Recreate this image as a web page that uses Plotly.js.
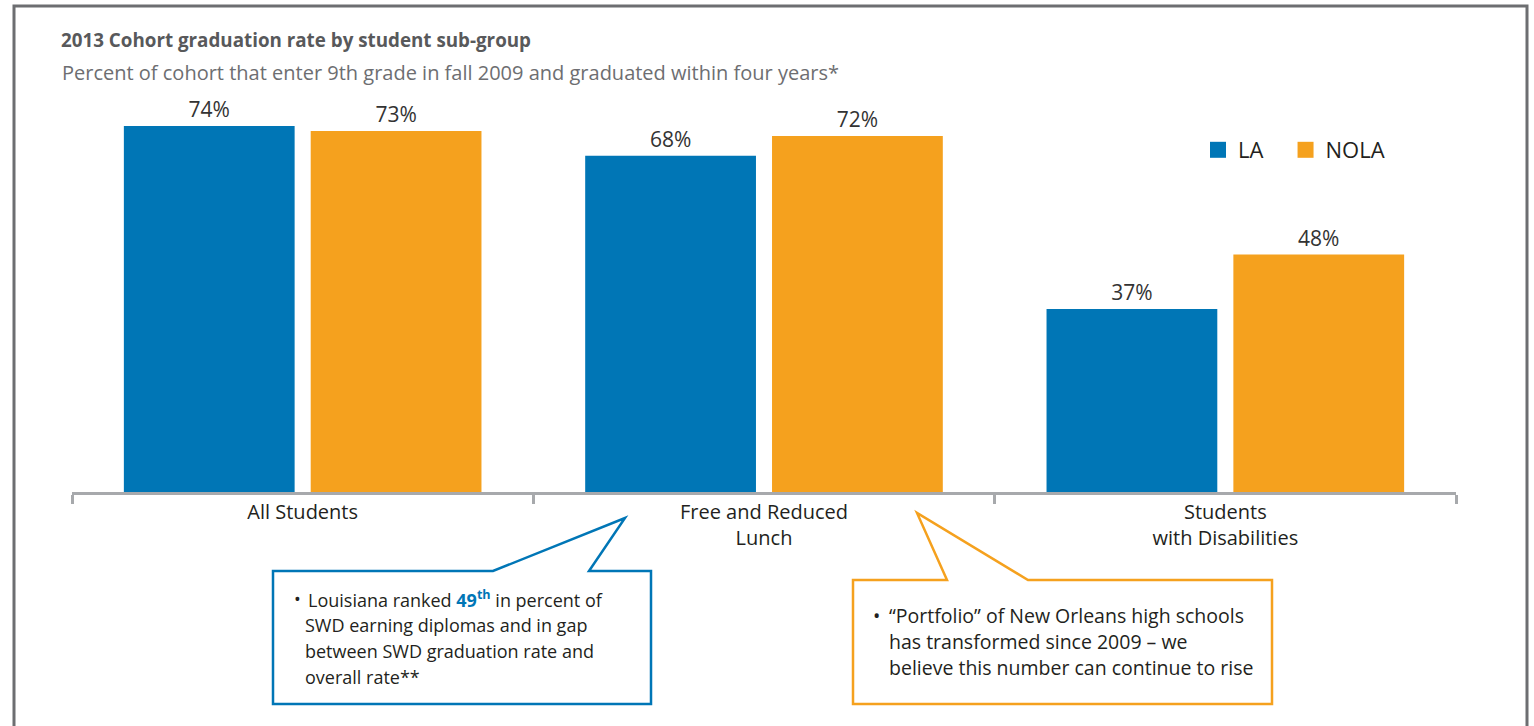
<!DOCTYPE html>
<html>
<head>
<meta charset="utf-8">
<script src="https://cdn.plot.ly/plotly-3.0.1.min.js"></script>
<style>html,body{margin:0;padding:0;background:#fff;}#chart{width:1534px;height:726px;}</style>
</head>
<body>
<div id="chart"></div>
<script>
const categories = ['All Students', 'Free and Reduced<br>Lunch', 'Students<br>with Disabilities'];
const laValues = [74, 68, 37];
const nolaValues = [73, 72, 48];
const seriesNames = ['LA', 'NOLA'];
const titleText = '2013 Cohort graduation rate by student sub-group';
const subtitleText = 'Percent of cohort that enter 9th grade in fall 2009 and graduated within four years*';
const callout1Lines = ['Louisiana ranked <span style="color:#0076b6"><b>49<sup>th</sup></b></span> in percent of', 'SWD earning diplomas and in gap', 'between SWD graduation rate and', 'overall rate**'];
const callout2Lines = ['\u201cPortfolio\u201d of New Orleans high schools', 'has transformed since 2009 \u2013 we', 'believe this number can continue to rise'];

const BLUE = '#0076b6', ORANGE = '#f5a11e';
const FONT = '"Open Sans", "Noto Sans", sans-serif';
const W = 1534, H = 726;
const M = {l: 72, r: 78, t: 100, b: 234};
const PW = W - M.l - M.r, PH = H - M.t - M.b;
const X = px => (px - M.l) / PW;
const Y = py => (H - M.b - py) / PH;
const P = pts => 'M ' + pts.map(p => X(p[0]) + ',' + Y(p[1])).join(' L ') + ' Z';

const barCommon = {
  type: 'bar', x: categories, texttemplate: '%{y}%', textposition: 'outside',
  cliponaxis: false, constraintext: 'none', showlegend: false, hoverinfo: 'skip',
  textfont: {size: 21, color: '#333', family: FONT}
};
const traces = [
  Object.assign({}, barCommon, {name: seriesNames[0], y: laValues, marker: {color: BLUE}}),
  Object.assign({}, barCommon, {name: seriesNames[1], y: nolaValues, marker: {color: ORANGE}}),
  {type: 'scatter', mode: 'markers', x: [null], y: [null], name: seriesNames[0] + '\u00a0\u00a0\u00a0', marker: {symbol: 'square', size: 20, color: BLUE}, showlegend: true},
  {type: 'scatter', mode: 'markers', x: [null], y: [null], name: seriesNames[1], marker: {symbol: 'square', size: 20, color: ORANGE}, showlegend: true}
];

const annotations = [
  {xref: 'paper', yref: 'paper', x: X(60), y: Y(72), xanchor: 'left', yanchor: 'middle', showarrow: false,
   text: subtitleText, font: {size: 20, color: '#6d6e71', family: FONT}}
];
const c1y = [599, 625, 651, 677];
annotations.push({xref: 'paper', yref: 'paper', x: X(292), y: Y(c1y[0]), xanchor: 'left', yanchor: 'middle', showarrow: false, text: '\u2022', font: {size: 18, color: '#231f20', family: FONT}});
callout1Lines.forEach((t, i) => annotations.push({xref: 'paper', yref: 'paper', x: X(i === 0 ? 306 : 303), y: Y(c1y[i]), xanchor: 'left', yanchor: 'middle', showarrow: false, text: t, font: {size: 18, color: '#231f20', family: FONT}}));
const c2y = [615, 641, 667];
annotations.push({xref: 'paper', yref: 'paper', x: X(871), y: Y(c2y[0]), xanchor: 'left', yanchor: 'middle', showarrow: false, text: '\u2022', font: {size: 19.5, color: '#231f20', family: FONT}});
callout2Lines.forEach((t, i) => annotations.push({xref: 'paper', yref: 'paper', x: X(887), y: Y(c2y[i]), xanchor: 'left', yanchor: 'middle', showarrow: false, text: t, font: {size: 19.5, color: '#231f20', family: FONT}}));

const shapes = [
  {type: 'rect', xref: 'paper', yref: 'paper', x0: X(14), x1: X(1527), y0: Y(760), y1: Y(6), line: {color: '#6d6e71', width: 3}, fillcolor: 'rgba(0,0,0,0)', layer: 'below'},
  {type: 'path', xref: 'paper', yref: 'paper', path: P([[273,571],[493,571],[625,518],[589,571],[651,571],[651,704],[273,704]]), line: {color: BLUE, width: 2.5}, fillcolor: '#fff', layer: 'below'},
  {type: 'path', xref: 'paper', yref: 'paper', path: P([[853,580],[947,580],[917,513],[1028,580],[1272,580],[1272,704],[853,704]]), line: {color: ORANGE, width: 2.5}, fillcolor: '#fff', layer: 'below'}
];

const layout = {
  width: W, height: H, margin: M,
  paper_bgcolor: '#fff', plot_bgcolor: 'rgba(0,0,0,0)',
  font: {family: FONT, color: '#231f20'},
  title: {text: '<b>' + titleText + '</b>', font: {size: 18.8, color: '#58595b', family: FONT},
          xref: 'container', yref: 'container', x: 61 / W, xanchor: 'left', y: 1 - 40 / H, yanchor: 'middle'},
  barmode: 'group', bargap: 0.19, bargroupgap: 0.086,
  xaxis: {type: 'category', showline: true, linecolor: '#a7a9ac', linewidth: 3, ticks: 'outside', tickson: 'boundaries',
          ticklen: 9, tickwidth: 3, tickcolor: '#a7a9ac', tickfont: {size: 20, color: '#231f20', family: FONT}, fixedrange: true},
  yaxis: {range: [0, PH / 4.946], visible: false, showgrid: false, zeroline: false, fixedrange: true},
  showlegend: true,
  legend: {orientation: 'h', xref: 'paper', yref: 'paper', x: X(1198), y: Y(150), xanchor: 'left', yanchor: 'middle',
           font: {size: 22, color: '#231f20', family: FONT}, bgcolor: 'rgba(0,0,0,0)'},
  annotations: annotations, shapes: shapes
};
Plotly.newPlot('chart', traces, layout, {displayModeBar: false, staticPlot: true});
</script>
</body>
</html>
